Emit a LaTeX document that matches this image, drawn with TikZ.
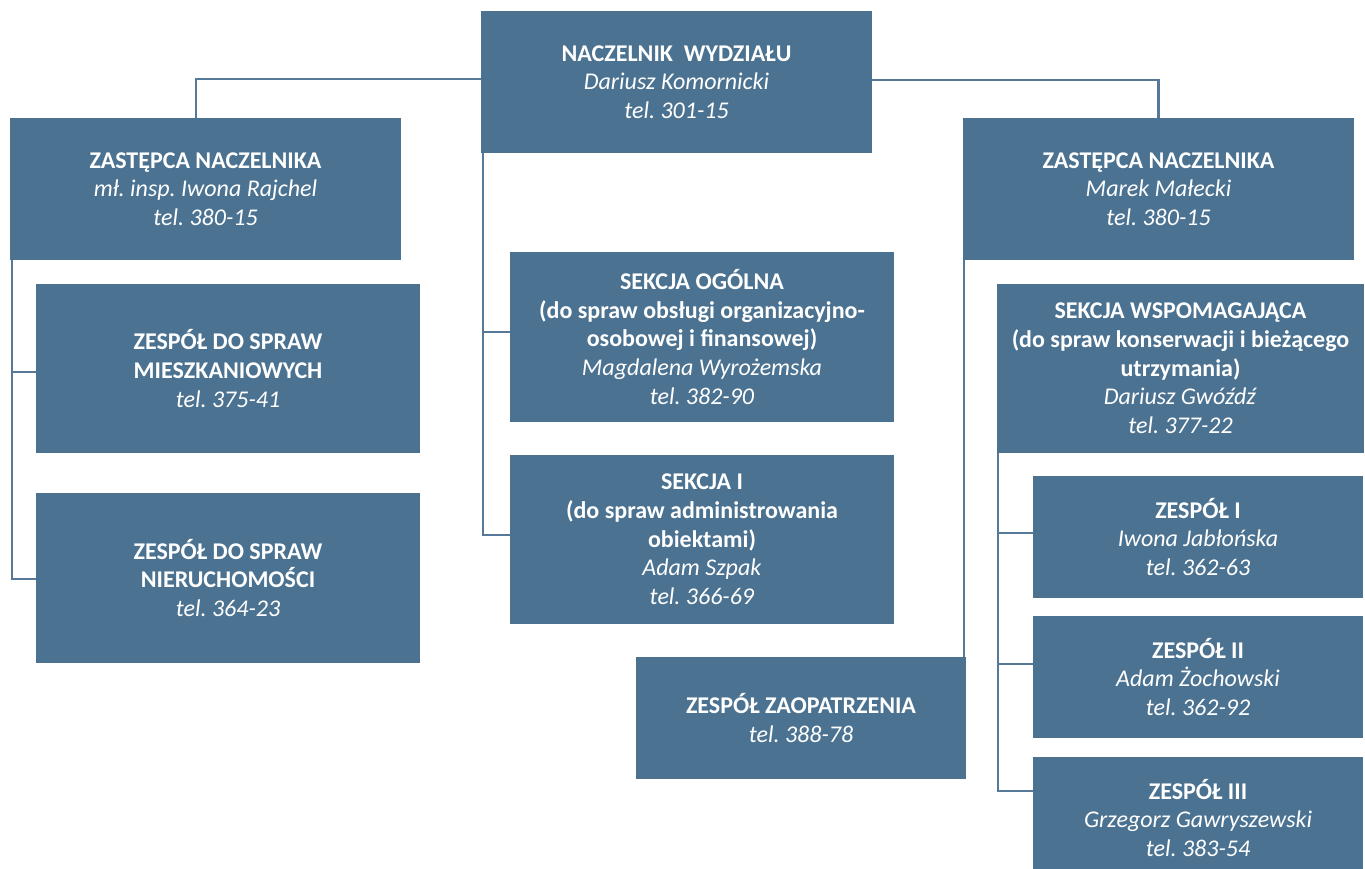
\documentclass[tikz,border=0pt]{standalone}
\usepackage{fontspec}
\setmainfont{Carlito}
\definecolor{boxc}{RGB}{75,114,145}
\definecolor{linec}{RGB}{86,121,154}
\begin{document}
\begin{tikzpicture}[x=1pt,y=-1pt,
  box/.style={fill=boxc, text=white, align=center, inner sep=0pt, outer sep=0pt,
    anchor=north west, font=\fontsize{24}{28.7}\selectfont\frenchspacing},
  conn/.style={draw=linec, line width=2.2pt}]
\useasboundingbox[fill=white] (0,0) rectangle (1365,869);
\node[box, minimum width=391, minimum height=142] (nacz) at (481,11)
  {\textbf{NACZELNIK~ WYDZIAŁU}\\\textit{Dariusz Komornicki}\\\textit{tel. 301-15}};
\node[box, minimum width=391, minimum height=142] (zl) at (10,118)
  {\textbf{ZASTĘPCA NACZELNIKA}\\\textit{mł. insp. Iwona Rajchel}\\\textit{tel. 380-15}};
\node[box, minimum width=391, minimum height=142] (zr) at (963,118)
  {\textbf{ZASTĘPCA NACZELNIKA}\\\textit{Marek Małecki}\\\textit{tel. 380-15}};
\node[box, minimum width=384, minimum height=169] (mz) at (36,284)
  {\textbf{ZESPÓŁ DO SPRAW}\\\textbf{MIESZKANIOWYCH}\\\textit{tel. 375-41}};
\node[box, minimum width=384, minimum height=170] (nr) at (36,493)
  {\textbf{ZESPÓŁ DO SPRAW}\\\textbf{NIERUCHOMOŚCI}\\\textit{tel. 364-23}};
\node[box, minimum width=384, minimum height=170] (so) at (510,252)
  {\textbf{SEKCJA OGÓLNA}\\\textbf{(do spraw obsługi organizacyjno-}\\\textbf{osobowej i finansowej)}\\\textit{Magdalena Wyrożemska}\\\textit{tel. 382-90}};
\node[box, minimum width=384, minimum height=169] (s1) at (510,455)
  {\textbf{SEKCJA I}\\\textbf{(do spraw administrowania}\\\textbf{obiektami)}\\\textit{Adam Szpak}\\\textit{tel. 366-69}};
\node[box, minimum width=330, minimum height=122] (zaop) at (636,657)
  {\textbf{ZESPÓŁ ZAOPATRZENIA}\\\textit{tel. 388-78}};
\node[box, minimum width=367, minimum height=169] (sw) at (997,284)
  {\textbf{SEKCJA WSPOMAGAJĄCA}\\\textbf{(do spraw konserwacji i bieżącego}\\\textbf{utrzymania)}\\\textit{Dariusz Gwóźdź}\\\textit{tel. 377-22}};
\node[box, minimum width=330, minimum height=122] (z1) at (1033,476)
  {\textbf{ZESPÓŁ I}\\\textit{Iwona Jabłońska}\\\textit{tel. 362-63}};
\node[box, minimum width=330, minimum height=122] (z2) at (1033,616)
  {\textbf{ZESPÓŁ II}\\\textit{Adam Żochowski}\\\textit{tel. 362-92}};
\node[box, minimum width=330, minimum height=122] (z3) at (1033,757)
  {\textbf{ZESPÓŁ III}\\\textit{Grzegorz Gawryszewski}\\\textit{tel. 383-54}};
% connectors
\draw[conn] ([yshift=3pt]nacz.west) -| ([xshift=-9.5pt]zl.north);
\draw[conn] ([yshift=2pt]nacz.east) -| (zr.north);
\draw[conn] ([xshift=2pt]nacz.south west) |- ([yshift=5pt]so.west);
\draw[conn] ([xshift=2pt]nacz.south west) |- ([yshift=4.5pt]s1.west);
\draw[conn] ([xshift=2pt]zl.south west) |- ([yshift=-3.5pt]mz.west);
\draw[conn] ([xshift=2pt]zl.south west) |- ([yshift=-1pt]nr.west);
\draw[conn] ([xshift=1pt]zr.south west) -- ([xshift=-2pt]zaop.north east);
\draw[conn] ([xshift=1pt]sw.south west) |- ([yshift=4pt]z1.west);
\draw[conn] ([xshift=1pt]sw.south west) |- ([yshift=13pt]z2.west);
\draw[conn] ([xshift=1pt]sw.south west) |- ([yshift=27pt]z3.west);
\end{tikzpicture}
\end{document}
